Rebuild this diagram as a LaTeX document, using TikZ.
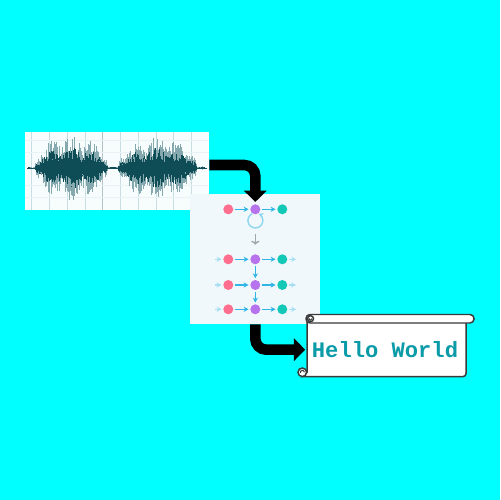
\documentclass[tikz,border=0pt]{standalone}
\usepackage{fontspec}
\newfontfamily\scrollfont{Liberation Mono}
\usetikzlibrary{arrows.meta}
\definecolor{bgcyan}{HTML}{00FFFF}
\definecolor{wavebg}{HTML}{F7FCFD}
\definecolor{gridcol}{HTML}{C9DEE3}
\definecolor{wavedark}{HTML}{0E4C56}
\definecolor{wavelight}{HTML}{86A9B0}
\definecolor{netbg}{HTML}{F1F8FB}
\definecolor{inpink}{HTML}{FF6E8E}
\definecolor{hidpurple}{HTML}{B673EC}
\definecolor{outteal}{HTML}{13C8B6}
\definecolor{linkblue}{HTML}{30B6E6}
\definecolor{fadeblue}{HTML}{A9DFF3}
\definecolor{loopblue}{HTML}{8DD5F0}
\definecolor{stepgray}{HTML}{9CA6AB}
\definecolor{scrollgray}{HTML}{3A3A3A}
\definecolor{msgteal}{HTML}{0A9BA8}

\begin{document}
\begin{tikzpicture}[x=0.02cm, y=0.02cm,
    cell/.style={circle, minimum size=0.2cm, inner sep=0pt},
    link/.style={linkblue, line width=0.8pt, shorten <=0.8pt, shorten >=0.8pt,
      -{Stealth[length=2.8pt,width=3pt]}},
    fadelink/.style={link, fadeblue},
    bigarrow/.style={line width=6pt, rounded corners=0.22cm,
      -{Triangle[length=6.4pt,width=12.6pt]}},
    scrollline/.style={scrollgray, line width=0.85pt, fill=white}]

  \fill[bgcyan] (0,0) rectangle (500,500);

  % audio
  \node[fill=wavebg, minimum width=3.68cm, minimum height=1.56cm, inner sep=0pt] (wave) at (117,329) {};
  \foreach \gx in {0,...,9}
    \draw[gridcol, line width=0.6pt] ({31.7+17.78*\gx},290) -- ({31.7+17.78*\gx},368);
  \draw[gridcol!70!gray, line width=0.7pt] (102.8,290) -- (102.8,368);
  \foreach \gy in {303,315,348,360}
    \draw[gridcol!40, line width=0.4pt] (25,\gy) -- (209,\gy);
  \pgfmathsetseed{42}
  \foreach \x in {28,28.5,...,205} {
    \pgfmathsetmacro{\wamp}{(1.2 + 33*(\x>35)*(\x<108)*sqrt(abs(sin(2.47*(\x-35))))
                                 + 31*(\x>118)*(\x<197)*sqrt(abs(sin(2.278*(\x-118)))))
                            *(0.6+0.4*abs(sin(8.5*\x+20)))}
    \pgfmathsetmacro{\wup}{\wamp*(0.15+0.85*rnd)}
    \pgfmathsetmacro{\wdn}{\wamp*(0.15+0.85*rnd)}
    \draw[wavelight, line width=0.35pt] (\x,{332-\wdn}) -- (\x,{332+\wup});
    \pgfmathsetmacro{\wup}{0.62*\wamp*(0.4+0.6*rnd)}
    \pgfmathsetmacro{\wdn}{0.62*\wamp*(0.4+0.6*rnd)}
    \draw[wavedark, line width=0.55pt] (\x,{332-\wdn}) -- (\x,{332+\wup});
  }
  \draw[wavedark, line width=0.5pt] (27,332) -- (207,332);
  \fill[wavedark] (202.7,332) circle (1.5);

  % network
  \node[fill=netbg, minimum size=2.6cm, inner sep=0pt] (net) at (255,241) {};
  \node[cell, fill=inpink] (p1) at (228.3,290.7) {};
  \node[cell, fill=hidpurple] (h1) at (255.3,290.7) {};
  \node[cell, fill=outteal] (q1) at (282.3,290.7) {};
  \draw[link] (p1) -- (h1);
  \draw[link] (h1) -- (q1);
  \draw[link, loopblue, shorten <=0pt, shorten >=0pt] (h1.-125) arc[start angle=115, end angle=425, radius=7.5];
  \foreach \i/\y in {2/240.7,3/215,4/190.7} {
    \node[cell, fill=inpink] (p\i) at (228.3,\y) {};
    \node[cell, fill=hidpurple] (h\i) at (255.3,\y) {};
    \node[cell, fill=outteal] (q\i) at (282.3,\y) {};
    \coordinate (l\i) at (214,\y);
    \coordinate (r\i) at (297.5,\y);
    \draw[fadelink] (l\i) -- (p\i);
    \draw[link] (p\i) -- (h\i);
    \draw[link] (h\i) -- (q\i);
    \draw[fadelink] (q\i) -- (r\i);
  }
  \draw[stepgray, line width=0.8pt, shorten <=0.394cm, shorten >=0.186cm, -{To[length=2.2pt]}] (h1) -- (h2);
  \draw[link] (h2) -- (h3);
  \draw[link] (h3) -- (h4);

  % scroll
  \filldraw[scrollline] (307,178) -- (307,127.7) -- (302.3,123.4) [rounded corners=0.06cm] -- (466,123.4) -- (466,178);
  \draw[scrollline] (302.3,127.7) circle (4.3);
  \draw[scrollgray, line width=0.6pt] (302.3,127.7) ++(2,0) arc[start angle=0, end angle=200, radius=2];
  \draw[scrollline, rounded corners=0.08cm] (306,177) rectangle (474,185.5);
  \draw[scrollline] (310.5,181.3) circle (3);
  \draw[scrollgray, line width=0.6pt] (310.5,181.3) ++(1.5,0) arc[start angle=0, end angle=-200, radius=1.5];
  \node[font=\scrollfont\bfseries\fontsize{12.6pt}{14pt}\selectfont, text=msgteal,
    minimum width=3.18cm, minimum height=1.07cm, inner sep=0pt] (msg) at (385,150.3) {Hello World};

  \draw[bigarrow] ([yshift=0.12cm]wave.east) -| ([yshift=0.04cm]h1.north);
  \draw[bigarrow] (net.south -| h4) |- (msg.west);
\end{tikzpicture}
\end{document}
